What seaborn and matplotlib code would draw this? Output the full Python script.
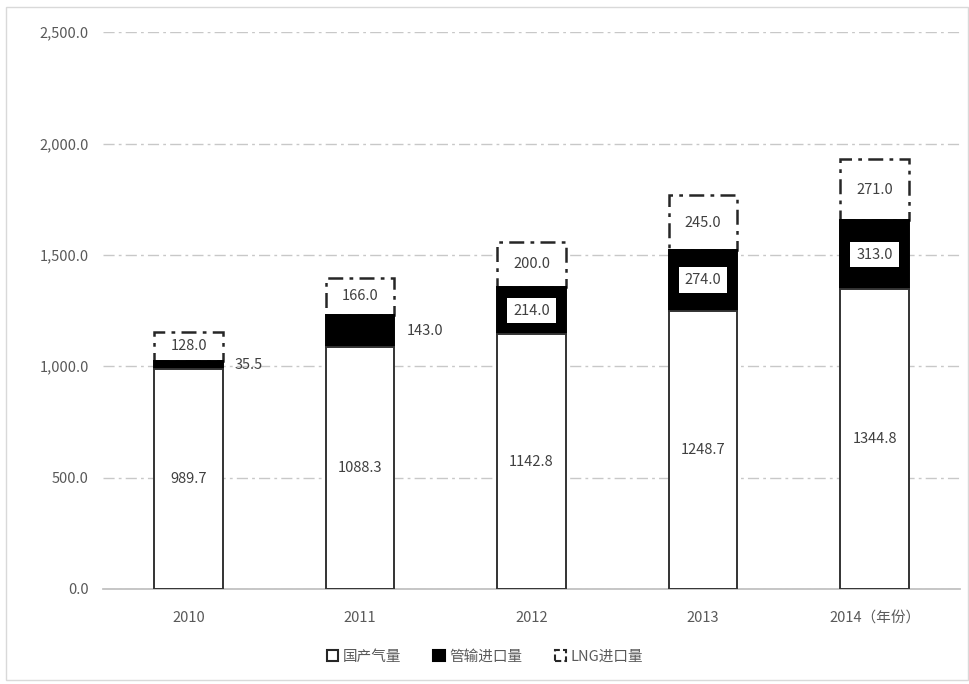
import numpy as np
import pandas as pd
import matplotlib.pyplot as plt
import seaborn as sns
from matplotlib.patches import Patch, Rectangle

# values (亿立方米)
years = ['2010', '2011', '2012', '2013', '2014（年份）']
domestic = [989.7, 1088.3, 1142.8, 1248.7, 1344.8]
pipeline = [35.5, 143.0, 214.0, 274.0, 313.0]
lng = [128.0, 166.0, 200.0, 245.0, 271.0]

df = pd.DataFrame({'year': years, 'domestic': domestic, 'pipeline': pipeline, 'lng': lng})
df['dom_pipe'] = df['domestic'] + df['pipeline']

sns.set_theme(style='white')
plt.rcParams['font.family'] = ['Noto Sans CJK SC', 'DejaVu Sans']

fig = plt.figure(figsize=(9.7, 6.84), dpi=100)
ax = fig.add_axes([0.106, 0.139, 0.884, 0.814])

# stacked bars
sns.barplot(data=df, x='year', y='domestic', color='white', width=0.4, ax=ax,
            edgecolor='#333333', linewidth=1.4, saturation=1, zorder=4)
sns.barplot(data=df, x='year', y='pipeline', bottom=df['domestic'].values, color='black',
            width=0.4, ax=ax, edgecolor='black', linewidth=1.4, saturation=1, zorder=3)
sns.barplot(data=df, x='year', y='lng', bottom=df['dom_pipe'].values, color='white',
            width=0.4, ax=ax, edgecolor='#262626', linewidth=1.8,
            linestyle=(0, (6, 2.5, 1.5, 2.5)), saturation=1, zorder=2)

txt = dict(ha='center', va='center', fontsize=10.5, color='#404040', zorder=6)
for i, row in df.iterrows():
    ax.text(i, row['domestic'] / 2, f"{row['domestic']:.1f}", **txt)
    ax.text(i, row['dom_pipe'] + row['lng'] / 2, f"{row['lng']:.1f}", **txt)
    ymid = row['domestic'] + row['pipeline'] / 2
    if row['pipeline'] < 180:
        ax.text(i + 0.27, ymid, f"{row['pipeline']:.1f}", ha='left', va='center',
                fontsize=10.5, color='#404040', zorder=6)
    else:
        ax.text(i, ymid, f"{row['pipeline']:.1f}",
                bbox=dict(boxstyle='square,pad=0.4', fc='white', ec='none'), **txt)

ax.set_ylim(0, 2500)
ax.set_yticks(np.arange(0, 2501, 500))
ax.set_yticklabels([f'{v:,.1f}' for v in np.arange(0, 2501, 500)])
ax.yaxis.grid(True, color='#c8c8c8', linewidth=1, linestyle=(0, (8, 3, 2, 3)))
ax.set_axisbelow(True)
ax.set_xlabel('')
ax.set_ylabel('')
for s in ['left', 'right', 'top']:
    ax.spines[s].set_visible(False)
ax.spines['bottom'].set_color('#bfbfbf')
ax.tick_params(axis='both', length=0, labelsize=10.5, labelcolor='#595959')
ax.tick_params(axis='x', pad=16)
ax.tick_params(axis='y', pad=10)

handles = [Patch(fc='white', ec='#262626', lw=1.5, label='国产气量'),
           Patch(fc='black', ec='black', lw=1.5, label='管输进口量'),
           Patch(fc='white', ec='#262626', lw=1.5, ls=(0, (3, 1.5)), label='LNG进口量')]
fig.legend(handles=handles, loc='center', bbox_to_anchor=(0.5, 0.04), ncol=3,
           frameon=False, handlelength=0.8, handleheight=0.8, handletextpad=0.3,
           columnspacing=2.2, prop={'size': 10.5}, labelcolor='#595959')

fig.patches.append(Rectangle((0.006, 0.006), 0.992, 0.984, transform=fig.transFigure,
                             fill=False, ec='#d9d9d9', lw=1))

fig.savefig('out.png', dpi=100)
